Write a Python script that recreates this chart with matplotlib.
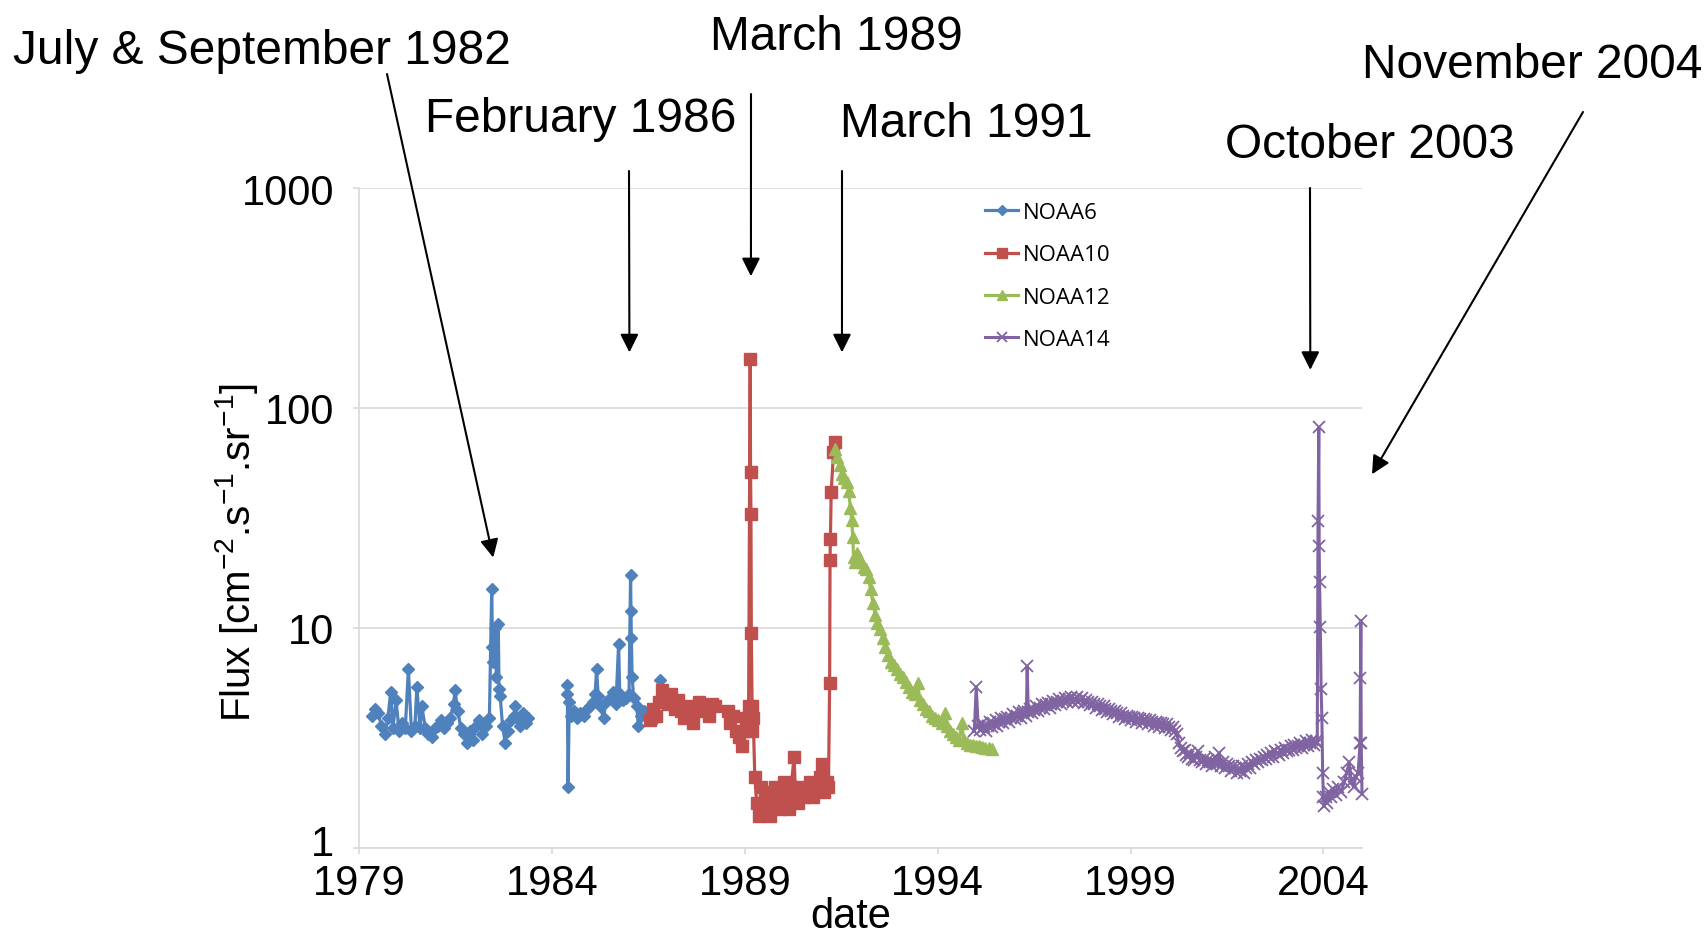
import numpy as np
import matplotlib
matplotlib.use("Agg")
import matplotlib.pyplot as plt
import matplotlib.transforms as mtransforms

nan = np.nan

# NOAA6 (gap between 1983 and 1984)
noaa6_year = [1979.33, 1979.42, 1979.50, 1979.58, 1979.67, 1979.75, 1979.82, 1979.88, 1979.96, 1980.04,
              1980.12, 1980.20, 1980.28, 1980.36, 1980.45, 1980.50, 1980.58, 1980.63, 1980.72, 1980.80,
              1980.88, 1980.96, 1981.04, 1981.12, 1981.20, 1981.28, 1981.36, 1981.45, 1981.49, 1981.56,
              1981.64, 1981.72, 1981.80, 1981.88, 1981.96, 1982.04, 1982.12, 1982.20, 1982.30, 1982.38,
              1982.44, 1982.46, 1982.48, 1982.52, 1982.56, 1982.61, 1982.63, 1982.66, 1982.72, 1982.79,
              1982.86, 1982.94, 1983.02, 1983.05, 1983.10, 1983.18, 1983.26, 1983.32, 1983.39, 1983.9,
              1984.39, 1984.40, 1984.42, 1984.45, 1984.50, 1984.58, 1984.66, 1984.74, 1984.82, 1984.90,
              1984.98, 1985.06, 1985.12, 1985.16, 1985.20, 1985.24, 1985.34, 1985.40, 1985.50, 1985.58,
              1985.66, 1985.73, 1985.76, 1985.84, 1985.92, 1986.00, 1986.04, 1986.05, 1986.06, 1986.08,
              1986.12, 1986.20, 1986.24, 1986.32, 1986.40, 1986.48, 1986.55, 1986.62, 1986.70, 1986.81]
noaa6_flux = [4.0, 4.3, 4.1, 3.6, 3.3, 3.9, 5.1, 3.5, 4.7, 3.4,
              3.7, 3.5, 6.5, 3.4, 3.6, 5.4, 3.5, 4.4, 3.5, 3.3,
              3.2, 3.5, 3.6, 3.8, 3.5, 3.7, 3.9, 4.5, 5.2, 4.2,
              3.5, 3.3, 3.0, 3.4, 3.1, 3.6, 3.8, 3.3, 3.6, 3.9,
              15.0, 8.2, 7.0, 10.0, 6.0, 10.4, 5.3, 4.9, 3.6, 3.0,
              3.4, 3.8, 4.0, 4.4, 3.9, 3.6, 4.1, 3.7, 3.9, nan,
              5.5, 5.0, 1.9, 4.6, 4.0, 4.2, 3.9, 4.1, 4.0, 4.3,
              4.4, 4.6, 5.0, 6.5, 4.9, 4.4, 3.9, 4.6, 4.8, 5.1,
              4.5, 8.5, 5.0, 4.7, 4.8, 5.0, 17.4, 12.0, 9.0, 6.0,
              4.8, 4.4, 3.6, 4.0, 4.2, 3.9, 3.8, 4.1, 3.9, 5.8]

# NOAA10 (gap in 1988)
noaa10_year = [1986.55, 1986.62, 1986.70, 1986.78, 1986.86, 1986.94, 1987.02, 1987.10, 1987.18, 1987.26,
               1987.34, 1987.42, 1987.50, 1987.58, 1987.66, 1987.74, 1987.82, 1987.90, 1987.98, 1988.06,
               1988.14, 1988.23, 1988.40,
               1988.57, 1988.62, 1988.70, 1988.78, 1988.86, 1988.92, 1988.97, 1989.04, 1989.10, 1989.14,
               1989.15, 1989.16, 1989.17, 1989.19, 1989.20, 1989.22, 1989.26, 1989.31, 1989.36, 1989.42,
               1989.48, 1989.54, 1989.60, 1989.66, 1989.72, 1989.78, 1989.84, 1989.90, 1989.96, 1990.02,
               1990.08, 1990.14, 1990.20, 1990.28, 1990.31, 1990.38, 1990.46, 1990.54, 1990.62, 1990.70,
               1990.78, 1990.86, 1990.94, 1991.00, 1991.05, 1991.12, 1991.17, 1991.20, 1991.21, 1991.22,
               1991.24, 1991.30, 1991.34]
noaa10_flux = [3.8, 4.3, 4.0, 4.6, 5.2, 4.8, 4.5, 5.0, 4.3, 4.7,
               4.2, 3.9, 4.4, 4.1, 3.7, 4.3, 4.6, 4.2, 4.4, 4.0,
               4.5, 4.4, nan,
               4.2, 3.7, 4.0, 3.4, 3.2, 2.9, 3.4, 3.9, 4.4, 167.0,
               51.0, 33.0, 9.5, 4.4, 3.4, 3.9, 2.1, 1.6, 1.4, 1.9,
               1.5, 1.8, 1.6, 1.4, 1.7, 1.9, 1.6, 1.5, 1.8, 2.0,
               1.7, 1.5, 1.9, 2.6, 1.8, 1.6, 1.9, 1.7, 1.8, 2.0,
               1.7, 1.9, 2.1, 2.4, 1.8, 2.0, 1.9, 5.6, 20.3, 25.4,
               41.5, 63.0, 70.0]

# NOAA12
noaa12_year = [1991.34, 1991.40, 1991.47, 1991.52, 1991.58, 1991.64, 1991.69, 1991.74, 1991.77, 1991.80,
               1991.82, 1991.86, 1991.90, 1991.96, 1992.02, 1992.08, 1992.14, 1992.21, 1992.26, 1992.32,
               1992.38, 1992.44, 1992.51, 1992.58, 1992.64, 1992.72, 1992.80, 1992.86, 1992.94, 1993.02,
               1993.10, 1993.18, 1993.26, 1993.34, 1993.42, 1993.48, 1993.54, 1993.62, 1993.70, 1993.78,
               1993.86, 1993.94, 1994.02, 1994.10, 1994.18, 1994.24, 1994.32, 1994.40, 1994.48, 1994.56,
               1994.62, 1994.68, 1994.76, 1994.84, 1994.92, 1995.00, 1995.08, 1995.16, 1995.24, 1995.32,
               1995.40]
noaa12_flux = [65.0, 60.0, 55.0, 50.0, 48.0, 46.0, 42.0, 35.0, 31.0, 26.0,
               21.0, 20.0, 22.0, 21.0, 20.0, 19.0, 18.5, 17.0, 15.0, 13.0,
               11.5, 10.5, 9.9, 9.0, 8.2, 7.5, 7.0, 6.8, 6.5, 6.2,
               6.0, 5.7, 5.4, 5.1, 5.0, 5.6, 4.7, 4.5, 4.3, 4.2,
               4.0, 3.9, 3.8, 3.7, 4.1, 3.6, 3.4, 3.3, 3.2, 3.1,
               3.7, 3.1, 3.0, 2.95, 2.95, 2.9, 2.9, 2.88, 2.85, 2.85,
               2.82]

# NOAA14
noaa14_year = [1994.95, 1995.00, 1995.05, 1995.10, 1995.15, 1995.20, 1995.25, 1995.30, 1995.35, 1995.40,
               1995.45, 1995.50, 1995.55, 1995.60, 1995.65, 1995.70, 1995.75, 1995.80, 1995.85, 1995.90,
               1995.95, 1996.00, 1996.05, 1996.10, 1996.15, 1996.20, 1996.25, 1996.30, 1996.32, 1996.35,
               1996.40, 1996.45, 1996.50, 1996.55, 1996.60, 1996.65, 1996.70, 1996.75, 1996.80, 1996.85,
               1996.90, 1996.95, 1997.00, 1997.05, 1997.10, 1997.15, 1997.20, 1997.25, 1997.30, 1997.35,
               1997.40, 1997.45, 1997.50, 1997.55, 1997.60, 1997.65, 1997.70, 1997.75, 1997.80, 1997.85,
               1997.90, 1997.95, 1998.00, 1998.05, 1998.10, 1998.15, 1998.20, 1998.25, 1998.30, 1998.35,
               1998.40, 1998.45, 1998.50, 1998.55, 1998.60, 1998.65, 1998.70, 1998.75, 1998.80, 1998.85,
               1998.90, 1998.95, 1999.00, 1999.05, 1999.10, 1999.15, 1999.20, 1999.25, 1999.30, 1999.35,
               1999.40, 1999.45, 1999.50, 1999.55, 1999.60, 1999.65, 1999.70, 1999.75, 1999.80, 1999.85,
               1999.90, 1999.95, 2000.00, 2000.05, 2000.10, 2000.15, 2000.20, 2000.25, 2000.30, 2000.35,
               2000.40, 2000.45, 2000.50, 2000.55, 2000.60, 2000.65, 2000.70, 2000.75, 2000.80, 2000.85,
               2000.90, 2000.95, 2001.00, 2001.05, 2001.10, 2001.15, 2001.20, 2001.25, 2001.30, 2001.35,
               2001.40, 2001.45, 2001.50, 2001.55, 2001.60, 2001.65, 2001.70, 2001.75, 2001.80, 2001.85,
               2001.90, 2001.95, 2002.00, 2002.05, 2002.10, 2002.15, 2002.20, 2002.25, 2002.30, 2002.35,
               2002.40, 2002.45, 2002.50, 2002.55, 2002.60, 2002.65, 2002.70, 2002.75, 2002.80, 2002.85,
               2002.90, 2002.95, 2003.00, 2003.05, 2003.10, 2003.15, 2003.20, 2003.25, 2003.30, 2003.35,
               2003.40, 2003.45, 2003.50, 2003.55, 2003.60, 2003.65, 2003.70, 2003.75, 2003.80, 2003.84,
               2003.86, 2003.88, 2003.89, 2003.90, 2003.92, 2003.94, 2003.96, 2003.98, 2004.00, 2004.02,
               2004.06, 2004.10, 2004.14, 2004.20, 2004.26, 2004.32, 2004.38, 2004.46, 2004.54, 2004.60,
               2004.67, 2004.72, 2004.78, 2004.84, 2004.90, 2004.95, 2004.96, 2004.97, 2004.98, 2005.00]
noaa14_flux = [3.4, 5.4, 3.6, 3.45, 3.7, 3.55, 3.4, 3.6, 3.75, 3.55,
               3.65, 3.8, 3.6, 3.75, 3.9, 3.7, 3.85, 3.95, 3.75, 3.9,
               4.05, 3.85, 4.0, 4.15, 3.9, 4.1, 4.2, 4.0, 6.7, 4.15,
               4.3, 4.1, 4.25, 4.4, 4.2, 4.35, 4.5, 4.3, 4.45, 4.55,
               4.35, 4.5, 4.65, 4.45, 4.6, 4.75, 4.5, 4.65, 4.8, 4.6,
               4.75, 4.85, 4.6, 4.75, 4.85, 4.6, 4.7, 4.8, 4.55, 4.7,
               4.6, 4.45, 4.6, 4.5, 4.35, 4.5, 4.4, 4.25, 4.4, 4.3,
               4.15, 4.3, 4.2, 4.05, 4.2, 4.1, 3.95, 4.1, 4.0, 3.85,
               4.0, 3.95, 3.8, 3.95, 3.9, 3.75, 3.9, 3.85, 3.7, 3.85,
               3.8, 3.65, 3.8, 3.75, 3.6, 3.75, 3.7, 3.55, 3.7, 3.65,
               3.5, 3.65, 3.55, 3.45, 3.55, 3.4, 3.3, 3.0, 2.85, 2.75,
               2.8, 2.65, 2.6, 2.7, 2.55, 2.5, 2.6, 2.75, 2.5, 2.45,
               2.55, 2.4, 2.5, 2.45, 2.35, 2.45, 2.6, 2.4, 2.7, 2.35,
               2.45, 2.3, 2.4, 2.35, 2.25, 2.35, 2.3, 2.2, 2.3, 2.25,
               2.35, 2.2, 2.3, 2.4, 2.3, 2.45, 2.4, 2.5, 2.45, 2.55,
               2.5, 2.6, 2.55, 2.65, 2.6, 2.7, 2.6, 2.75, 2.7, 2.65,
               2.8, 2.7, 2.85, 2.75, 2.8, 2.9, 2.8, 2.95, 2.85, 2.9,
               3.0, 2.85, 2.95, 3.05, 2.9, 3.0, 3.1, 2.95, 3.05, 3.0,
               30.7, 81.7, 23.7, 16.1, 10.1, 5.3, 3.9, 2.2, 1.7, 1.55,
               1.7, 1.6, 1.8, 1.7, 1.85, 1.75, 1.9, 1.8, 2.0, 2.2,
               2.45, 2.0, 1.9, 2.1, 2.2, 3.0, 5.9, 10.8, 3.0, 1.76]

year_ticks = [1979, 1984, 1989, 1994, 1999, 2004]
flux_ticks = [1, 10, 100, 1000]

events = ["July & September 1982", "February 1986", "March 1989",
          "March 1991", "October 2003", "November 2004"]
event_dates = [1982.48, 1986.01, 1989.16, 1991.52, 2003.66, 2005.26]
event_flux = [20.9, 179, 397, 179, 149, 50]
# text (left, baseline) and arrow tail, in figure pixels from top-left
text_pos = [(13, 64), (425, 132), (710, 50), (840, 137), (1225, 158), (1362, 78)]
tail_pos = [(387, 75), (629, 172), (751, 95), (842, 172), (1310, 189), (1583, 113)]

font = "Liberation Sans"
plt.rcParams["mathtext.fontset"] = "custom"
plt.rcParams["mathtext.rm"] = font
plt.rcParams["mathtext.it"] = font

W, H = 1705, 937
fig = plt.figure(figsize=(W / 100, H / 100), dpi=100)
ax = fig.add_axes([359 / W, 1 - 849 / H, (1362 - 359) / W, (849 - 189) / H])

ax.plot(noaa6_year, noaa6_flux, color="#4F81BD", marker="D", ms=6.5, lw=2.3, label="NOAA6", clip_on=False)
ax.plot(noaa10_year, noaa10_flux, color="#C0504D", marker="s", ms=8.5, lw=2.3, label="NOAA10", clip_on=False)
ax.plot(noaa12_year, noaa12_flux, color="#9BBB59", marker="^", ms=9, lw=2.3, label="NOAA12", clip_on=False)
ax.plot(noaa14_year, noaa14_flux, color="#8064A2", marker="x", ms=9, mew=1.3, lw=2.2, label="NOAA14", clip_on=False)

ax.set_yscale("log")
ax.set_ylim(1, 1000)
ax.set_xlim(1979, 2005)
ax.set_yticks(flux_ticks)
ax.set_yticklabels([str(v) for v in flux_ticks])
ax.yaxis.set_minor_locator(matplotlib.ticker.NullLocator())
ax.set_xticks(year_ticks)
ax.set_xticklabels([str(v) for v in year_ticks])

grid_c = "#d9d9d9"
ax.grid(axis="y", color=grid_c, lw=1.2)
ax.set_axisbelow(True)
for s in ["top", "right"]:
    ax.spines[s].set_visible(False)
for s in ["left", "bottom"]:
    ax.spines[s].set_color(grid_c)
    ax.spines[s].set_linewidth(1.2)
ax.tick_params(axis="both", colors=grid_c, length=4, width=1.2, labelcolor="black")
ax.tick_params(axis="x", pad=7)
ax.tick_params(axis="y", pad=14)
for lab in ax.get_xticklabels() + ax.get_yticklabels():
    lab.set_family(font)
    lab.set_fontsize(30)

# the "1" label sits a little above its tick, clear of "1979"
lab1 = ax.get_yticklabels()[0]
lab1.set_transform(lab1.get_transform() + mtransforms.ScaledTranslation(0, 6 / 72, fig.dpi_scale_trans))

ax.set_xlabel("date", family=font, fontsize=30, va="top")
ax.xaxis.set_label_coords(0.4905, -0.0727)
ax.set_ylabel(r"Flux [cm$^{-2}$.s$^{-1}$.sr$^{-1}$]", family=font, fontsize=29, va="center")
ax.yaxis.set_label_coords((237 - 359) / (1362 - 359), 0.45)

ax.legend(loc="upper left", bbox_to_anchor=(985 / W, 1 - 203 / H), bbox_transform=fig.transFigure,
          frameon=False, prop={"family": "Open Sans", "size": 16}, handlelength=1.5,
          handletextpad=0.2, labelspacing=0.96, borderpad=0, borderaxespad=0, numpoints=1,
          markerscale=0.8)

for txt, d, f, (tx, ty), (ax0, ay0) in zip(events, event_dates, event_flux, text_pos, tail_pos):
    fig.text(tx / W, 1 - ty / H, txt, family=font, fontsize=34.5, ha="left", va="baseline")
    ax.annotate("", xy=(d, f), xycoords="data", xytext=(ax0, H - ay0), textcoords="figure pixels",
                arrowprops=dict(arrowstyle="-|>,head_length=0.5,head_width=0.25", color="black",
                                lw=1.5, shrinkA=0, shrinkB=0, mutation_scale=22),
                annotation_clip=False)

fig.savefig("out.png", dpi=100)
